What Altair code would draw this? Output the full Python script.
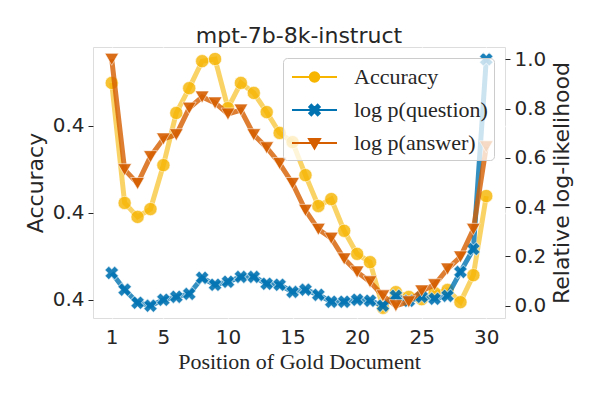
import altair as alt
import pandas as pd

positions = list(range(1, 31))
accuracy = [0.4299, 0.4023, 0.3991, 0.4009, 0.4110, 0.4230, 0.4287, 0.4349, 0.4354, 0.4241,
            0.4299, 0.4276, 0.4232, 0.4184, 0.4163, 0.4087, 0.4016, 0.4032, 0.3959, 0.3906,
            0.3887, 0.3782, 0.3818, 0.3807, 0.3802, 0.3816, 0.3823, 0.3795, 0.3857, 0.4039]
logp_question = [0.133, 0.065, 0.012, 0.000, 0.024, 0.036, 0.048, 0.113, 0.085, 0.097,
                 0.117, 0.117, 0.089, 0.085, 0.056, 0.065, 0.044, 0.016, 0.016, 0.024,
                 0.020, 0.000, 0.040, 0.020, 0.036, 0.028, 0.040, 0.137, 0.230, 1.000]
logp_answer = [1.000, 0.552, 0.496, 0.605, 0.677, 0.694, 0.802, 0.847, 0.823, 0.778,
               0.794, 0.694, 0.641, 0.577, 0.496, 0.387, 0.310, 0.274, 0.190, 0.137,
               0.097, 0.040, 0.000, 0.016, 0.060, 0.085, 0.149, 0.198, 0.310, 0.645]

series_names = ["Accuracy", "log p(question)", "log p(answer)"]
series_colors = ["#F7B500", "#0173B2", "#D55E00"]
x_ticks = [1, 5, 10, 15, 20, 25, 30]
acc_ticks = [0.38, 0.40, 0.42]
rel_ticks = [0.0, 0.2, 0.4, 0.6, 0.8, 1.0]

acc_df = pd.DataFrame({"position": positions, "value": accuracy, "series": series_names[0]})
q_df = pd.DataFrame({"position": positions, "value": logp_question, "series": series_names[1]})
a_df = pd.DataFrame({"position": positions, "value": logp_answer, "series": series_names[2]})

TXT = "#262626"

# legend symbols (unit = 12.5 px): a line with the marker on it
P_ACC = "M-1.8,0H1.8M0.38,0A0.38,0.38 0 1 1 -0.38,0A0.38,0.38 0 1 1 0.38,0Z"
e, a = 0.42, 0.17
P_Q = ("M-1.8,0H1.8M{m},{n}L{n},{m}L0,{c}L{p},{m}L{e},{n}L{c2},0L{e},{p}L{p},{e}L0,{c2}L{n},{e}L{m},{p}L{c},0Z"
       .format(m=-e, n=-e + a, c=-a, p=e - a, e=e, c2=a))
P_ANS = "M-1.8,0H1.8M-0.44,-0.32L0.44,-0.32L0,0.44Z"
shape_expr = ("datum.value === 'Accuracy' ? '" + P_ACC + "' : datum.value === 'log p(question)' ? '"
              + P_Q + "' : '" + P_ANS + "'")

legend = alt.Legend(
    title=None, orient="none", legendX=190, legendY=11,
    labelFont="Liberation Serif", labelFontSize=22, labelColor=TXT,
    symbolType={"expr": shape_expr},
    symbolFillColor={"expr": "scale('color', datum.value)"},
    symbolStrokeColor={"expr": "scale('color', datum.value)"},
    symbolSize=625, symbolStrokeWidth=2, symbolOpacity=1, symbolOffset=12.5,
    labelOffset=26, rowPadding=8, padding=5.5,
    fillColor="rgba(255,255,255,0.75)", strokeColor="#cccccc", cornerRadius=4,
)

color = alt.Color("series:N", scale=alt.Scale(domain=series_names, range=series_colors), legend=legend)

x_enc = alt.X("position:Q", scale=alt.Scale(domain=[-0.45, 31.45], nice=False, zero=False),
              axis=alt.Axis(values=x_ticks, title="Position of Gold Document",
                            titleFont="Liberation Serif", titleFontSize=22, titleFontWeight="normal",
                            titleColor=TXT, titleX=206, titleY=50, titleBaseline="alphabetic",
                            titleAlign="center", labelFont="DejaVu Sans", labelFontSize=20,
                            labelColor=TXT, labelPadding=9, ticks=False, domain=False,
                            grid=True, gridColor="white", gridWidth=1.3, labelFlush=False))

y_left = alt.Y("value:Q", scale=alt.Scale(domain=[0.37586, 0.43816], nice=False, zero=False),
               axis=alt.Axis(values=acc_ticks, format=".1f", title="Accuracy",
                             titleFont="DejaVu Sans", titleFontSize=22, titleFontWeight="normal",
                             titleColor=TXT, titleAngle=270, titleX=-51, titleY=135.5,
                             titleBaseline="alphabetic", titleAlign="center",
                             labelFont="DejaVu Sans", labelFontSize=20, labelColor=TXT,
                             labelPadding=4, tickSize=5, tickColor=TXT, domain=False,
                             grid=True, gridColor="white", gridWidth=1.3))

y_right = alt.Y("value:Q", scale=alt.Scale(domain=[-0.05, 1.05], nice=False, zero=False),
                axis=alt.Axis(orient="right", values=rel_ticks, format=".1f",
                              title="Relative log-likelihood",
                              titleFont="DejaVu Sans", titleFontSize=22, titleFontWeight="normal",
                              titleColor=TXT, titleAngle=270, titleX=63, titleY=135.5,
                              titleBaseline="alphabetic", titleAlign="center",
                              labelFont="DejaVu Sans", labelFontSize=20, labelColor=TXT,
                              labelPadding=4, tickSize=5, tickColor=TXT, domain=False,
                              grid=False))

acc_line = alt.Chart(acc_df).mark_line(strokeWidth=5, opacity=0.6).encode(x=x_enc, y=y_left, color=color)
acc_pts = alt.Chart(acc_df).mark_point(shape="circle", filled=True, size=175, opacity=0.8, stroke="white",
                                        strokeWidth=1, strokeOpacity=0.6).encode(
    x=x_enc, y=y_left, color=color)

q_line = alt.Chart(q_df).mark_line(strokeWidth=5, opacity=0.8).encode(x=x_enc, y=y_right, color=color)
q_pts = alt.Chart(q_df).mark_point(shape="cross", filled=True, size=190, angle=45, opacity=0.9,
                                    stroke="white", strokeWidth=1, strokeOpacity=0.6).encode(
    x=x_enc, y=y_right, color=color)

a_line = alt.Chart(a_df).mark_line(strokeWidth=5, opacity=0.8).encode(x=x_enc, y=y_right, color=color)
a_pts = alt.Chart(a_df).mark_point(shape="triangle-down", filled=True, size=190, opacity=0.9,
                                    stroke="white", strokeWidth=1, strokeOpacity=0.6).encode(
    x=x_enc, y=y_right, color=color)

left = alt.layer(acc_line, acc_pts)
right = alt.layer(q_line, q_pts, a_line, a_pts)

chart = alt.layer(left, right).resolve_scale(y="independent").properties(
    width=412, height=271,
    autosize=alt.AutoSizeParams(type="none"),
    padding={"left": 85, "top": 39, "right": 85, "bottom": 73},
    title=alt.TitleParams(text="mpt-7b-8k-instruct", font="DejaVu Sans", fontSize=22,
                          fontWeight="normal", color=TXT, offset=-18, baseline="alphabetic",
                          anchor="middle", frame="group"),
).configure_view(fill="#EAEAF2", strokeWidth=0).configure(background="white")

chart.save("out.html", embed_options={"renderer": "svg", "actions": False})
